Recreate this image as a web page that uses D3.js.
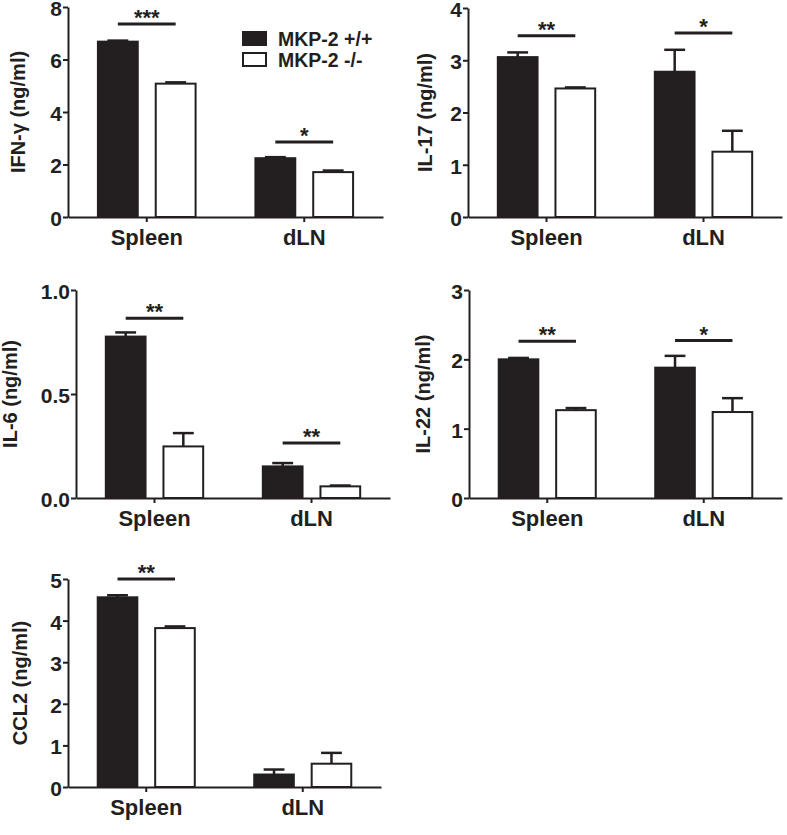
<!DOCTYPE html>
<html>
<head>
<meta charset="utf-8">
<script src="https://cdn.jsdelivr.net/npm/d3@7"></script>
<style>
  body { margin: 0; background: #fff; }
</style>
</head>
<body>
<div id="chart"></div>
<script>
const categories = ["Spleen", "dLN"];
const groups = ["MKP-2 +/+", "MKP-2 -/-"];

// values (ng/ml), mean and upper error
const ifngWT = [6.68, 2.24];
const ifngWTErr = [0.04, 0.04];
const ifngKO = [5.08, 1.71];
const ifngKOErr = [0.05, 0.06];
const ifngSig = ["***", "*"];
const ifngSigY = [7.35, 2.86];

const il17WT = [3.06, 2.78];
const il17WTErr = [0.09, 0.42];
const il17KO = [2.46, 1.25];
const il17KOErr = [0.02, 0.4];
const il17Sig = ["**", "*"];
const il17SigY = [3.47, 3.52];

const il6WT = [0.776, 0.152];
const il6WTErr = [0.02, 0.016];
const il6KO = [0.248, 0.056];
const il6KOErr = [0.064, 0.004];
const il6Sig = ["**", "**"];
const il6SigY = [0.864, 0.264];

const il22WT = [2.0, 1.88];
const il22WTErr = [0.02, 0.17];
const il22KO = [1.267, 1.24];
const il22KOErr = [0.03, 0.2];
const il22Sig = ["**", "*"];
const il22SigY = [2.26, 2.27];

const ccl2WT = [4.56, 0.3];
const ccl2WTErr = [0.05, 0.12];
const ccl2KO = [3.82, 0.56];
const ccl2KOErr = [0.04, 0.26];
const ccl2Sig = ["**", ""];
const ccl2SigY = [5.0, 0];

const ifngTicks = [0, 2, 4, 6, 8];
const il17Ticks = [0, 1, 2, 3, 4];
const il6Ticks = [0, 0.5, 1.0];
const il22Ticks = [0, 1, 2, 3];
const ccl2Ticks = [0, 1, 2, 3, 4, 5];

const ink = "#231f20";
const font = "'Liberation Sans', Arial, Helvetica, sans-serif";

// titleX = baseline of the rotated y title
const panels = [
  { title: "IFN-γ (ng/ml)", ticks: ifngTicks, fmt: d3.format("d"), wt: ifngWT, wtErr: ifngWTErr, ko: ifngKO, koErr: ifngKOErr, sig: ifngSig, sigY: ifngSigY,
    x: 68, top: 7, bottom: 217, right: 383, titleX: 25 },
  { title: "IL-17 (ng/ml)", ticks: il17Ticks, fmt: d3.format("d"), wt: il17WT, wtErr: il17WTErr, ko: il17KO, koErr: il17KOErr, sig: il17Sig, sigY: il17SigY,
    x: 468, top: 8, bottom: 217, right: 782, titleX: 432 },
  { title: "IL-6 (ng/ml)", ticks: il6Ticks, fmt: d3.format(".1f"), wt: il6WT, wtErr: il6WTErr, ko: il6KO, koErr: il6KOErr, sig: il6Sig, sigY: il6SigY,
    x: 76, top: 290, bottom: 498, right: 390, titleX: 17 },
  { title: "IL-22 (ng/ml)", ticks: il22Ticks, fmt: d3.format("d"), wt: il22WT, wtErr: il22WTErr, ko: il22KO, koErr: il22KOErr, sig: il22Sig, sigY: il22SigY,
    x: 469, top: 290, bottom: 498, right: 782, titleX: 430 },
  { title: "CCL2 (ng/ml)", ticks: ccl2Ticks, fmt: d3.format("d"), wt: ccl2WT, wtErr: ccl2WTErr, ko: ccl2KO, koErr: ccl2KOErr, sig: ccl2Sig, sigY: ccl2SigY,
    x: 68, top: 579, bottom: 787, right: 381, titleX: 27 }
];

const svg = d3
  .select("#chart")
  .append("svg")
  .attr("width", 787)
  .attr("height", 835)
  .style("font-family", font)
  .style("font-weight", "bold");

panels.forEach((p) => {
  const width = p.right - p.x;
  const height = p.bottom - p.top;
  const g = svg.append("g").attr("transform", `translate(${p.x},${p.top})`);

  const yScale = d3.scaleLinear().domain([0, d3.max(p.ticks)]).range([height, 0]);
  const xOuter = d3.scaleBand().domain(categories).range([0, width]).paddingInner(0);
  const xInner = d3
    .scaleBand()
    .domain(groups)
    .range([0, xOuter.bandwidth()])
    .paddingInner(0.276)
    .paddingOuter(0.5);
  const bw = xInner.bandwidth();

  categories.forEach((c, i) => {
    groups.forEach((grp, j) => {
      const v = j === 0 ? p.wt[i] : p.ko[i];
      const e = j === 0 ? p.wtErr[i] : p.koErr[i];
      const bx = xOuter(c) + xInner(grp);
      const cx = bx + bw / 2;

      // upper error bar
      g.append("line")
        .attr("x1", cx).attr("x2", cx)
        .attr("y1", yScale(v)).attr("y2", yScale(v + e))
        .attr("stroke", ink).attr("stroke-width", 2.5);
      g.append("line")
        .attr("x1", cx - bw / 4).attr("x2", cx + bw / 4)
        .attr("y1", yScale(v + e)).attr("y2", yScale(v + e))
        .attr("stroke", ink).attr("stroke-width", 2.5);

      g.append("rect")
        .attr("x", bx + 1)
        .attr("y", yScale(v))
        .attr("width", bw - 2)
        .attr("height", height - yScale(v))
        .attr("fill", j === 0 ? ink : "#fff")
        .attr("stroke", ink)
        .attr("stroke-width", 2);
    });

    if (p.sig[i]) {
      const x1 = xOuter(c) + xInner(groups[0]) + bw / 2;
      const x2 = xOuter(c) + xInner(groups[1]) + bw / 2;
      const sy = yScale(p.sigY[i]);
      g.append("line")
        .attr("x1", x1).attr("x2", x2)
        .attr("y1", sy).attr("y2", sy)
        .attr("stroke", ink).attr("stroke-width", 3);
      g.append("text")
        .attr("x", (x1 + x2) / 2)
        .attr("y", sy + 1)
        .attr("text-anchor", "middle")
        .attr("font-size", "22px")
        .attr("fill", ink)
        .text(p.sig[i]);
    }
  });

  const yAxis = d3.axisLeft(yScale).tickValues(p.ticks).tickFormat(p.fmt).tickSize(5).tickSizeOuter(0).tickPadding(1);
  const xAxis = d3.axisBottom(xOuter).tickSize(5).tickSizeOuter(0).tickPadding(7);

  const ya = g.append("g").call(yAxis);
  const xa = g.append("g").attr("transform", `translate(0,${height})`).call(xAxis);

  [ya, xa].forEach((a) => {
    a.select(".domain").attr("stroke", ink).attr("stroke-width", 2);
    a.selectAll(".tick line").attr("stroke", ink).attr("stroke-width", 2);
    a.selectAll("text").attr("fill", ink).attr("font-family", font).attr("font-weight", "bold");
  });
  ya.selectAll("text").attr("font-size", "21px").attr("dy", "0.4em");
  xa.selectAll("text").attr("font-size", "22px");

  svg.append("text")
    .attr("transform", `translate(${p.titleX},${(p.top + p.bottom) / 2}) rotate(-90)`)
    .attr("text-anchor", "middle")
    .attr("font-size", "20px")
    .attr("fill", ink)
    .text(p.title);
});

// legend (first panel)
const legend = svg.append("g");
groups.forEach((grp, j) => {
  legend.append("rect")
    .attr("x", 243)
    .attr("y", 32 + j * 21)
    .attr("width", 23)
    .attr("height", 13)
    .attr("fill", j === 0 ? ink : "#fff")
    .attr("stroke", ink)
    .attr("stroke-width", 2);
  legend.append("text")
    .attr("x", 278)
    .attr("y", 39 + j * 21)
    .attr("dy", "0.35em")
    .attr("font-size", "19.5px")
    .attr("fill", ink)
    .text(grp);
});
</script>
</body>
</html>
